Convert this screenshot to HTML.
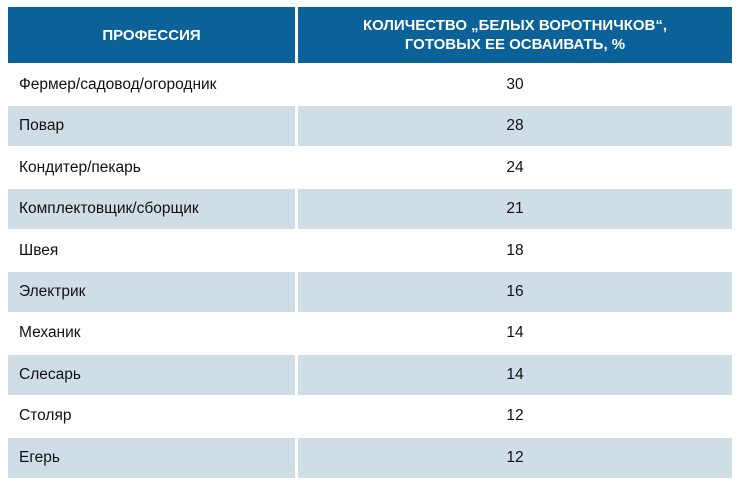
<!DOCTYPE html>
<html><head><meta charset="utf-8"><style>
body{margin:0;width:740px;height:487px;background:#fff;font-family:"Liberation Sans",sans-serif;position:relative;overflow:hidden}
.c{position:absolute;display:flex;align-items:center;box-sizing:border-box}
.h{background:#0a6299;color:#fff;font-weight:bold;font-size:15px;justify-content:center;text-align:center;line-height:19px}
.s{background:#cfdde6}
.l{padding-left:11px;font-size:15.5px;color:#111}
.r{justify-content:center;font-size:15.5px;color:#111}
</style></head><body>
<div class="c h" style="left:8px;top:7px;width:287px;height:56px">ПРОФЕССИЯ</div>
<div class="c h" style="left:298px;top:7px;width:434px;height:56px">КОЛИЧЕСТВО „БЕЛЫХ ВОРОТНИЧКОВ“,<br>ГОТОВЫХ ЕЕ ОСВАИВАТЬ, %</div>
<div id="rows"></div>
<script>
var d=[["Фермер/садовод/огородник",30],["Повар",28],["Кондитер/пекарь",24],["Комплектовщик/сборщик",21],["Швея",18],["Электрик",16],["Механик",14],["Слесарь",14],["Столяр",12],["Егерь",12]];
var h="";d.forEach(function(r,i){var t=65+i*41.4,s=i%2?" s":"";
h+='<div class="c l'+s+'" style="left:8px;top:'+t+'px;width:287px;height:40px">'+r[0]+'</div>';
h+='<div class="c r'+s+'" style="left:298px;top:'+t+'px;width:434px;height:40px">'+r[1]+'</div>';});
document.getElementById("rows").innerHTML=h;
</script>
</body></html>
